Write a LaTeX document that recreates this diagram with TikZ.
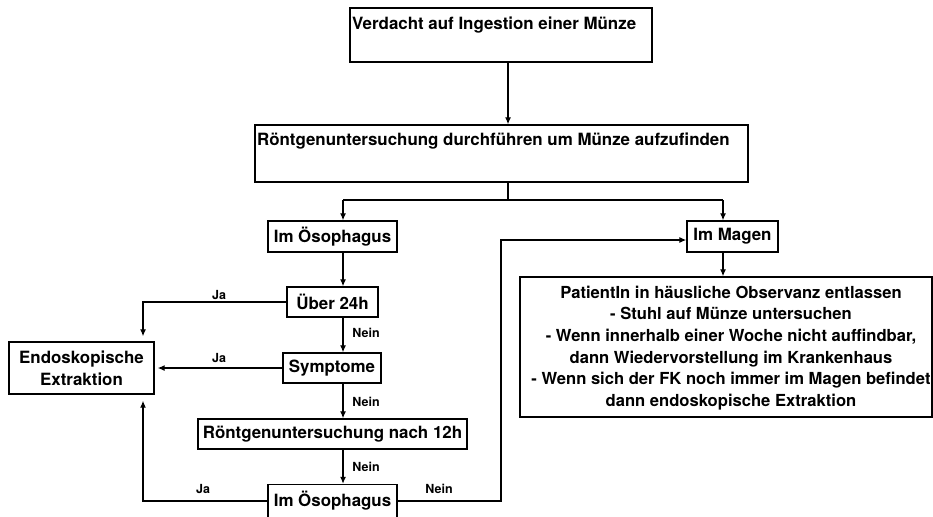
\documentclass[tikz,border=0pt]{standalone}
\usepackage{fontspec}
\setmainfont{TeX Gyre Heros}
\usetikzlibrary{arrows.meta,calc}
\begin{document}
\begin{tikzpicture}[x=1pt,y=-1pt,
  box/.style={draw,line width=1.4pt,inner sep=0pt},
  txt/.style={font=\fontsize{16.9}{21.6}\selectfont\bfseries,inner sep=0pt,align=center},
  ptxt/.style={font=\fontsize{16.6}{21.6}\selectfont\bfseries,inner sep=0pt,align=center},
  lbl/.style={font=\fontsize{12.5}{15}\selectfont\bfseries,inner sep=0pt},
  ln/.style={line width=1.2pt},
  arr/.style={line width=1.2pt,-{Latex[length=7pt,width=6pt]}}]
\useasboundingbox (0,0) rectangle (933,516);
% boxes
\node[box,minimum width=302pt,minimum height=54pt] (top) at (501,35) {};
\node[txt,anchor=west] (toptxt) at (352,25) {Verdacht auf Ingestion einer Münze};
\node[box,minimum width=493pt,minimum height=57pt] (xray) at (501.5,153.5) {};
\node[txt,anchor=west] (xraytxt) at (257,141) {Röntgenuntersuchung durchführen um Münze aufzufinden};
\node[box,txt,minimum width=129pt,minimum height=31pt] (oes1) at (332.5,236.5) {Im Ösophagus};
\node[box,txt,minimum width=91pt,minimum height=30pt] (ueber) at (332.5,302) {Über 24h};
\node[box,txt,minimum width=98pt,minimum height=30pt] (sympt) at (332,368) {Symptome};
\node[box,txt,minimum width=269pt,minimum height=30pt] (r12) at (332.5,434) {Röntgenuntersuchung nach 12h};
\node[box,minimum width=129pt,minimum height=34pt] (oes2) at (332.5,501.5) {};
\node[txt] (oes2txt) at (332.5,501) {Im Ösophagus};
\node[box,txt,minimum width=145pt,minimum height=52pt] (endo) at (81.5,368) {Endoskopische\\Extraktion};
\node[box,txt,minimum width=91pt,minimum height=31pt] (magen) at (732.5,236.5) {Im Magen};
\node[box,minimum width=412pt,minimum height=140pt] (pat) at (726,347) {};
\node[ptxt] (pattxt) at (731,348) {PatientIn in häusliche Observanz entlassen\\- Stuhl auf Münze untersuchen\\- Wenn innerhalb einer Woche nicht auffindbar,\\dann Wiedervorstellung im Krankenhaus\\- Wenn sich der FK noch immer im Magen befindet\\dann endoskopische Extraktion};
% helper coordinates
\coordinate (cx) at (508,200);
\coordinate (lx) at (343,200);
\coordinate (rx) at (723,200);
\coordinate (jx) at (143,0);
\coordinate (nx) at (501,240);
% connectors
\draw[arr] (top.south -| cx) -- (xray.north -| cx);
\draw[ln] (xray.south -| cx) -- (cx);
\draw[ln] (lx) -- (rx);
\draw[arr] (lx) -- (oes1.north -| lx);
\draw[arr] (rx) -- (magen.north -| rx);
\draw[arr] (oes1.south -| lx) -- (ueber.north -| lx);
\draw[arr] (ueber.south -| lx) -- (sympt.north -| lx);
\draw[arr] (sympt.south -| lx) -- (r12.north -| lx);
\draw[arr] (r12.south -| lx) -- (oes2.north -| lx);
\draw[arr,shorten >=5pt] (ueber.west) -- (ueber.west -| jx) -- (endo.north -| jx);
\draw[arr,shorten >=3pt] (sympt.west) -- (endo.east |- sympt.west);
\draw[arr,shorten >=6pt] (oes2txt.west -| oes2.west) -- (oes2txt.west -| jx) -- (endo.south -| jx);
\draw[arr] (oes2txt.east -| oes2.east) -- (oes2txt.east -| nx) -- (nx) -- (magen.west |- nx);
\draw[arr] (magen.south -| rx) -- (pat.north -| rx);
% labels
\node[lbl] (ja1) at (219,295) {Ja};
\node[lbl] (ja2) at (219,358) {Ja};
\node[lbl] (ja3) at (203,489) {Ja};
\node[lbl] (n1) at (366,333) {Nein};
\node[lbl] (n2) at (366,402) {Nein};
\node[lbl] (n3) at (366,467) {Nein};
\node[lbl] (n4) at (439,489) {Nein};
\end{tikzpicture}
\end{document}
